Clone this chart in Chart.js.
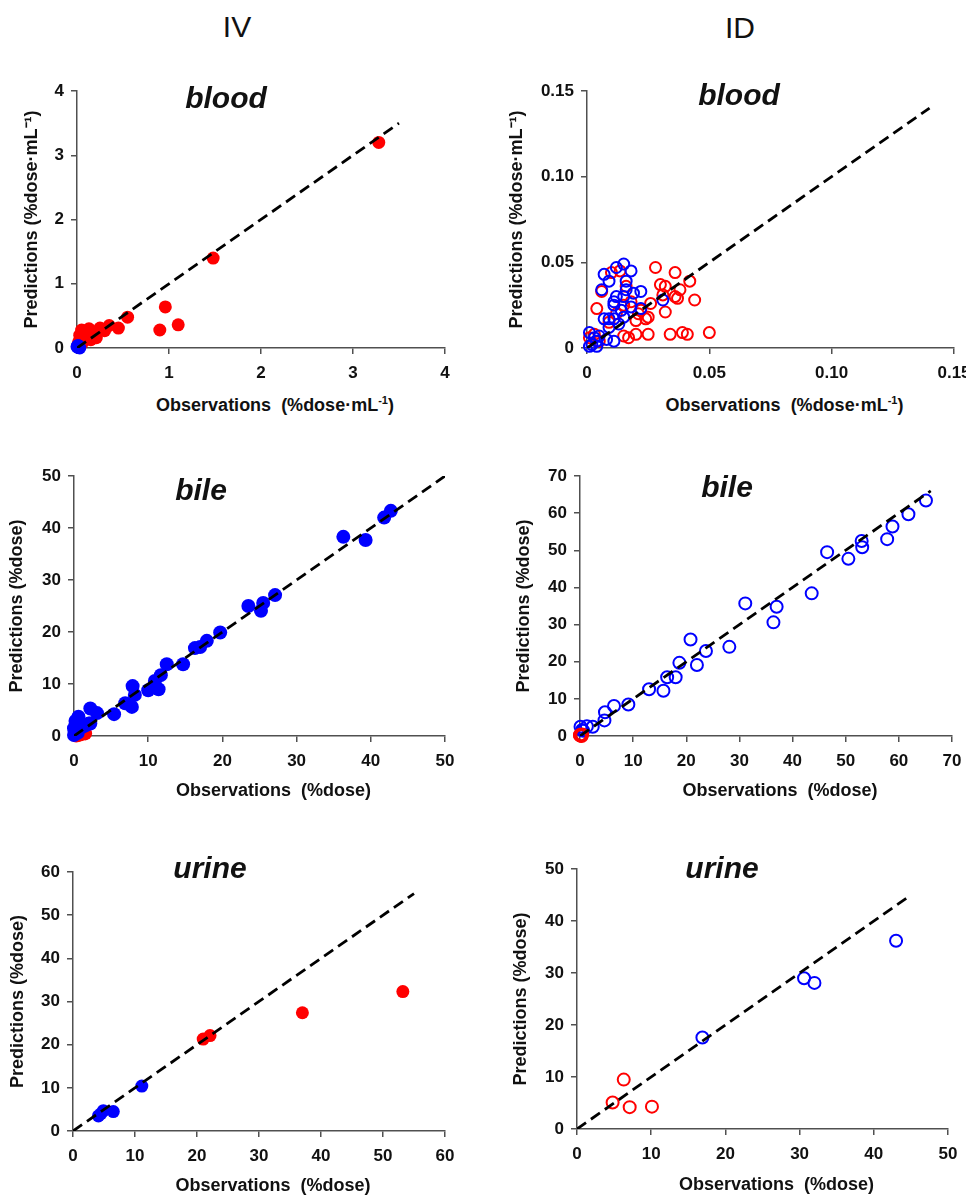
<!DOCTYPE html>
<html>
<head>
<meta charset="utf-8">
<script src="https://cdn.jsdelivr.net/npm/chart.js@4.4.0/dist/chart.umd.min.js"></script>
<style>
  html, body { margin: 0; padding: 0; width: 966px; height: 1195px; overflow: hidden; background: #fff; }
  body { position: relative; font-family: 'Liberation Sans', Arial, sans-serif; color: #111; }
  canvas { position: absolute; }
  .txt { position: absolute; white-space: pre; line-height: 1; }
  .col { font-size: 30px; transform: translate(-50%, -50%); }
  .ptitle { font-size: 30px; font-weight: bold; font-style: italic; transform: translateX(-50%); }
  .xtitle { font-size: 18px; font-weight: bold; transform: translate(-50%, -50%); }
  .xtitle sup { font-size: 11px; vertical-align: 7px; line-height: 0; }
</style>
</head>
<body>
<script>
// --- data ---
const ivBloodRed = [[3.28, 3.20], [1.48, 1.40], [0.96, 0.64], [1.10, 0.36], [0.90, 0.28], [0.55, 0.48],
  [0.45, 0.31], [0.35, 0.35], [0.30, 0.27], [0.25, 0.31], [0.20, 0.23], [0.21, 0.16], [0.13, 0.30],
  [0.10, 0.26], [0.08, 0.20], [0.05, 0.28], [0.04, 0.16], [0.02, 0.10], [0.03, 0.20], [0.06, 0.08],
  [0.15, 0.13], [0.01, 0.05]]
const ivBloodBlue = [[0.01, 0.01], [0.02, 0.03], [0.00, 0.02], [0.03, 0.00], [0.01, 0.04]]

const idBloodRed = [[0.028, 0.047], [0.036, 0.044], [0.042, 0.039], [0.038, 0.034], [0.044, 0.028],
  [0.036, 0.030], [0.037, 0.029], [0.030, 0.037], [0.032, 0.036], [0.031, 0.031], [0.032, 0.021],
  [0.026, 0.026], [0.025, 0.018], [0.025, 0.008], [0.034, 0.008], [0.039, 0.009], [0.041, 0.008],
  [0.050, 0.009], [0.020, 0.016], [0.021, 0.020], [0.020, 0.008], [0.017, 0.006], [0.015, 0.007],
  [0.004, 0.023], [0.006, 0.033], [0.010, 0.044], [0.0135, 0.045], [0.016, 0.036], [0.012, 0.020],
  [0.015, 0.025], [0.018, 0.027], [0.009, 0.015], [0.001, 0.006], [0.003, 0.008], [0.005, 0.004],
  [0.022, 0.022], [0.024, 0.017]]
const idBloodBlue = [[0.015, 0.049], [0.018, 0.045], [0.012, 0.047], [0.007, 0.043], [0.009, 0.039],
  [0.016, 0.039], [0.006, 0.034], [0.016, 0.034], [0.019, 0.032], [0.022, 0.033], [0.012, 0.030],
  [0.011, 0.027], [0.011, 0.025], [0.015, 0.030], [0.018, 0.024], [0.022, 0.023], [0.031, 0.028],
  [0.007, 0.017], [0.009, 0.017], [0.011, 0.017], [0.015, 0.018], [0.009, 0.012], [0.008, 0.005],
  [0.011, 0.004], [0.001, 0.009], [0.002, 0.002], [0.004, 0.001], [0.001, 0.001], [0.004, 0.004],
  [0.005, 0.007], [0.003, 0.006], [0.013, 0.014], [0.014, 0.022]]

const ivBileBlue = [[42.7, 43.3], [41.8, 42.0], [39.3, 37.7], [36.3, 38.3], [27.1, 27.1], [25.5, 25.6],
  [25.2, 24.1], [23.5, 25.0], [19.7, 19.9], [17.9, 18.3], [17.0, 17.1], [16.3, 16.9], [14.7, 13.8],
  [12.5, 13.8], [11.7, 11.7], [10.9, 10.6], [11.4, 9.0], [10.0, 8.8], [7.9, 9.6], [8.2, 7.9],
  [7.8, 5.6], [6.9, 6.3], [5.4, 4.2], [3.1, 4.4], [2.2, 5.3], [2.2, 2.4], [1.2, 1.8], [0.6, 3.7],
  [0.2, 2.9], [0.0, 1.5], [0.1, 0.9], [0.5, 0.6], [0.0, 0.2], [1.5, 2.0], [2.0, 2.4]]
const ivBileRed = [[1.2, 0.8], [1.5, 0.5], [0.8, 0.3], [0.5, 0.2], [0.3, 0.1], [1.0, 0.4]]

const idBileBlue = [[65.1, 63.4], [61.8, 59.7], [58.8, 56.4], [57.8, 53.0], [53.0, 52.5], [53.1, 50.8],
  [50.5, 47.7], [46.5, 49.5], [43.6, 38.4], [37.0, 34.8], [36.4, 30.6], [31.1, 35.7], [28.1, 24.0],
  [23.7, 22.9], [22.0, 19.1], [20.8, 26.0], [18.7, 19.7], [18.0, 15.8], [16.4, 15.8], [15.7, 12.2],
  [13.0, 12.6], [9.1, 8.5], [6.4, 8.1], [4.7, 6.4], [4.6, 4.2], [2.4, 2.5], [1.3, 2.6], [0.1, 2.5],
  [0.4, 1.6], [0.6, 1.4]]
const idBileRed = [[0.1, 0.1], [0.2, 0.3], [0.3, 0.0], [0.0, 0.2], [0.4, 0.4], [0.0, 0.3]]

const ivUrineBlue = [[4.1, 3.5], [4.9, 4.7], [6.5, 4.5], [11.1, 10.4], [4.5, 4.0]]
const ivUrineRed = [[21.0, 21.3], [22.1, 22.1], [37.0, 27.4], [53.2, 32.3]]
const idUrineBlue = [[16.9, 17.6], [30.6, 29.0], [32.0, 28.1], [43.0, 36.2]]
const idUrineRed = [[6.3, 9.5], [4.8, 5.1], [7.1, 4.2], [10.1, 4.3]]

// identity line end (line of unity drawn from 0 to this value)
const ivBloodLineEnd = 3.5
const idBloodLineEnd = 0.14
const ivBileLineEnd = 50
const idBileLineEnd = 66
const ivUrineLineEnd = 55
const idUrineLineEnd = 45

// axis ticks
const ivBloodTicks = [0, 1, 2, 3, 4]
const ivBloodTickLabels = ['0', '1', '2', '3', '4']
const idBloodTicks = [0, 0.05, 0.10, 0.15]
const idBloodTickLabels = ['0', '0.05', '0.10', '0.15']
const ivBileTicks = [0, 10, 20, 30, 40, 50]
const ivBileTickLabels = ['0', '10', '20', '30', '40', '50']
const idBileTicks = [0, 10, 20, 30, 40, 50, 60, 70]
const idBileTickLabels = ['0', '10', '20', '30', '40', '50', '60', '70']
const ivUrineTicks = [0, 10, 20, 30, 40, 50, 60]
const ivUrineTickLabels = ['0', '10', '20', '30', '40', '50', '60']
const idUrineTicks = [0, 10, 20, 30, 40, 50]
const idUrineTickLabels = ['0', '10', '20', '30', '40', '50']

const columnTitles = ['IV', 'ID']

const RED = '#ff0000'
const BLUE = '#0000ff'
const AXIS = '#505050'
const FONT = "'Liberation Sans', Arial, sans-serif"

const yTitleBlood = 'Predictions (%dose·mL⁻¹)'
const yTitleDose = 'Predictions (%dose)'
const xTitleBlood = 'Observations  (%dose·mL<sup>-1</sup>)'
const xTitleDose = 'Observations  (%dose)'

// layout of the six panels (plot area in page pixels)
const panels = [
  { name: 'blood', red: ivBloodRed, blue: ivBloodBlue, lineEnd: ivBloodLineEnd, ticks: ivBloodTicks, labels: ivBloodTickLabels,
    open: false, blueOnTop: true, radius: 6.5, yTitle: yTitleBlood, xTitle: xTitleBlood,
    box: { l: 77, t: 91, r: 445, b: 348 }, yTitleX: 32, xTitleY: 405, titleX: 226, titleBase: 108 },
  { name: 'blood', red: idBloodRed, blue: idBloodBlue, lineEnd: idBloodLineEnd, ticks: idBloodTicks, labels: idBloodTickLabels,
    open: true, blueOnTop: true, radius: 5.5, yTitle: yTitleBlood, xTitle: xTitleBlood,
    box: { l: 587, t: 91, r: 954, b: 348 }, yTitleX: 517, xTitleY: 405, titleX: 739, titleBase: 105 },
  { name: 'bile', red: ivBileRed, blue: ivBileBlue, lineEnd: ivBileLineEnd, ticks: ivBileTicks, labels: ivBileTickLabels,
    open: false, blueOnTop: true, radius: 7, yTitle: yTitleDose, xTitle: xTitleDose,
    box: { l: 74, t: 476, r: 445, b: 736 }, yTitleX: 17, xTitleY: 790, titleX: 201, titleBase: 500 },
  { name: 'bile', red: idBileRed, blue: idBileBlue, lineEnd: idBileLineEnd, ticks: idBileTicks, labels: idBileTickLabels,
    open: true, blueOnTop: false, radius: 6, yTitle: yTitleDose, xTitle: xTitleDose,
    box: { l: 580, t: 476, r: 952, b: 736 }, yTitleX: 524, xTitleY: 790, titleX: 727, titleBase: 497 },
  { name: 'urine', red: ivUrineRed, blue: ivUrineBlue, lineEnd: ivUrineLineEnd, ticks: ivUrineTicks, labels: ivUrineTickLabels,
    open: false, blueOnTop: true, radius: 6.5, yTitle: yTitleDose, xTitle: xTitleDose,
    box: { l: 73, t: 872, r: 445, b: 1131 }, yTitleX: 18, xTitleY: 1185, titleX: 210, titleBase: 878 },
  { name: 'urine', red: idUrineRed, blue: idUrineBlue, lineEnd: idUrineLineEnd, ticks: idUrineTicks, labels: idUrineTickLabels,
    open: true, blueOnTop: true, radius: 6, yTitle: yTitleDose, xTitle: xTitleDose,
    box: { l: 577, t: 869, r: 948, b: 1129 }, yTitleX: 521, xTitleY: 1184, titleX: 722, titleBase: 878 },
]

const addText = (cls, html, x, y) => {
  const el = document.createElement('div')
  el.className = 'txt ' + cls
  el.innerHTML = html
  el.style.left = x + 'px'
  el.style.top = y + 'px'
  document.body.appendChild(el)
  return el
}

addText('col', columnTitles[0], 237, 27)
addText('col', columnTitles[1], 740, 28)

const toPoints = (pairs) => pairs.map(([x, y]) => ({ x, y }))

const pointDataset = (pairs, color, panel) => ({
  type: 'scatter',
  data: toPoints(pairs),
  pointStyle: 'circle',
  pointRadius: panel.radius,
  pointHoverRadius: panel.radius,
  pointBackgroundColor: panel.open ? 'rgba(0,0,0,0)' : color,
  pointBorderColor: color,
  pointBorderWidth: panel.open ? 2 : 0,
  showLine: false,
  clip: false,
})

const axisOptions = (panel, isX, fixedSize) => {
  const ticks = panel.ticks
  return {
    type: 'linear',
    min: ticks[0],
    max: ticks[ticks.length - 1],
    afterBuildTicks: (scale) => {
      scale.ticks = ticks.map((value) => ({ value }))
    },
    afterFit: (scale) => {
      if (isX) scale.height = fixedSize
      else scale.width = fixedSize
    },
    ticks: {
      autoSkip: false,
      maxRotation: 0,
      padding: isX ? 9 : 7,
      color: '#111',
      font: { family: FONT, size: 17, weight: 'bold' },
      callback: (value, index) => panel.labels[index],
    },
    grid: {
      display: true,
      drawOnChartArea: false,
      drawTicks: true,
      tickLength: 6,
      color: AXIS,
      lineWidth: 1.5,
    },
    border: { display: true, color: AXIS, width: 1.5 },
    title: isX
      ? { display: false }
      : { display: true, text: panel.yTitle, color: '#111', padding: 0, font: { family: FONT, size: 18, weight: 'bold' } },
  }
}

panels.forEach((panel) => {
  const { box } = panel
  const canvasLeft = panel.yTitleX - 11
  const canvasTop = box.t - 20
  const canvasRight = box.r + 30
  const canvasBottom = box.b + 45

  const canvas = document.createElement('canvas')
  canvas.width = canvasRight - canvasLeft
  canvas.height = canvasBottom - canvasTop
  canvas.style.left = canvasLeft + 'px'
  canvas.style.top = canvasTop + 'px'
  canvas.style.width = canvas.width + 'px'
  canvas.style.height = canvas.height + 'px'
  document.body.appendChild(canvas)

  const lineDataset = {
    type: 'line',
    data: [{ x: 0, y: 0 }, { x: panel.lineEnd, y: panel.lineEnd }],
    borderColor: '#000',
    borderWidth: 2.8,
    borderDash: [11, 6],
    pointRadius: 0,
    fill: false,
    tension: 0,
  }
  const redSet = pointDataset(panel.red, RED, panel)
  const blueSet = pointDataset(panel.blue, BLUE, panel)
  // first dataset is painted last (on top)
  const datasets = panel.blueOnTop ? [lineDataset, blueSet, redSet] : [lineDataset, redSet, blueSet]

  new Chart(canvas.getContext('2d'), {
    type: 'scatter',
    data: { datasets },
    options: {
      responsive: false,
      animation: false,
      devicePixelRatio: 1,
      layout: { padding: { left: 0, top: box.t - canvasTop, right: canvasRight - box.r, bottom: 0 } },
      plugins: { legend: { display: false }, tooltip: { enabled: false } },
      events: [],
      scales: {
        x: axisOptions(panel, true, canvasBottom - box.b),
        y: axisOptions(panel, false, box.l - canvasLeft),
      },
    },
  })

  addText('ptitle', panel.name, panel.titleX, panel.titleBase - 25.4)
  addText('xtitle', panel.xTitle, (box.l + box.r) / 2 + 14, panel.xTitleY)
})
</script>
</body>
</html>
